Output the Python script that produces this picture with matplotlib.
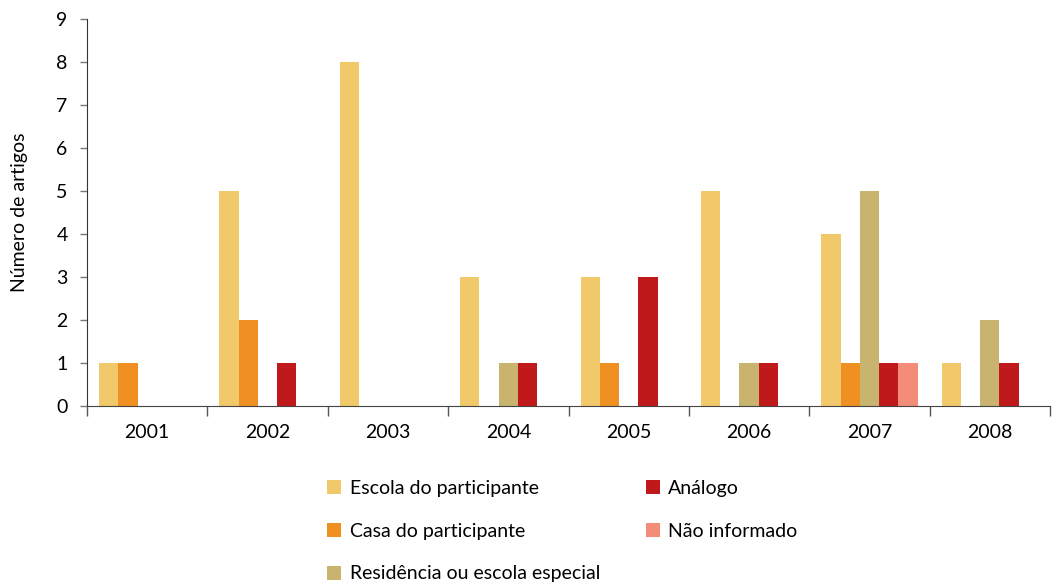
import numpy as np
import matplotlib.pyplot as plt
from matplotlib.patches import Patch

plt.rcParams['font.family'] = ['Lato', 'DejaVu Sans']

years = ['2001', '2002', '2003', '2004', '2005', '2006', '2007', '2008']
series = ['Escola do participante', 'Casa do participante',
          'Residência ou escola especial', 'Análogo', 'Não informado']
escola = [1, 5, 8, 3, 3, 5, 4, 1]
casa = [1, 2, 0, 0, 1, 0, 1, 0]
residencia = [0, 0, 0, 1, 0, 1, 5, 2]
analogo = [0, 1, 0, 1, 3, 1, 1, 1]
nao_informado = [0, 0, 0, 0, 0, 0, 1, 0]
colors = ['#F2C96A', '#F09022', '#C8B46E', '#C0191C', '#F38C79']

values = [escola, casa, residencia, analogo, nao_informado]

fig = plt.figure(figsize=(10.53, 5.82), dpi=100)
ax = fig.add_axes([87/1053, 176/582, 963/1053, 387/582])

x = np.arange(len(years))
w = 0.16
for i, (vals, c) in enumerate(zip(values, colors)):
    ax.bar(x + (i - 2) * w, vals, width=w, color=c, linewidth=0)

ax.set_xlim(-0.5, len(years) - 0.5)
ax.set_ylim(0, 9)
ax.set_yticks(range(10))
ax.set_xticks(x)
ax.set_xticklabels(years)
ax.set_xticks(np.arange(len(years) + 1) - 0.5, minor=True)
ax.tick_params(axis='x', which='major', length=0, pad=13, labelsize=14)
ax.tick_params(axis='x', which='minor', length=7, width=1, color='#555555', direction='out')
ax.tick_params(axis='y', length=5, width=1, color='#777777', pad=9, labelsize=14)
for s in ['top', 'right']:
    ax.spines[s].set_visible(False)
ax.spines['left'].set_color('#333333')
ax.spines['bottom'].set_color('#444444')
ax.set_ylabel('Número de artigos', fontsize=14, labelpad=20)

handles = [Patch(facecolor=c, edgecolor='none') for c in colors]
fig.legend(handles, series, loc='upper left', bbox_to_anchor=(319/1053, 1 - 472/582),
           ncol=2, frameon=False, fontsize=14, handlelength=0.72, handleheight=0.72,
           handletextpad=0.45, labelspacing=1.33, columnspacing=2.35, borderaxespad=0)

fig.savefig('out.png', dpi=100)
